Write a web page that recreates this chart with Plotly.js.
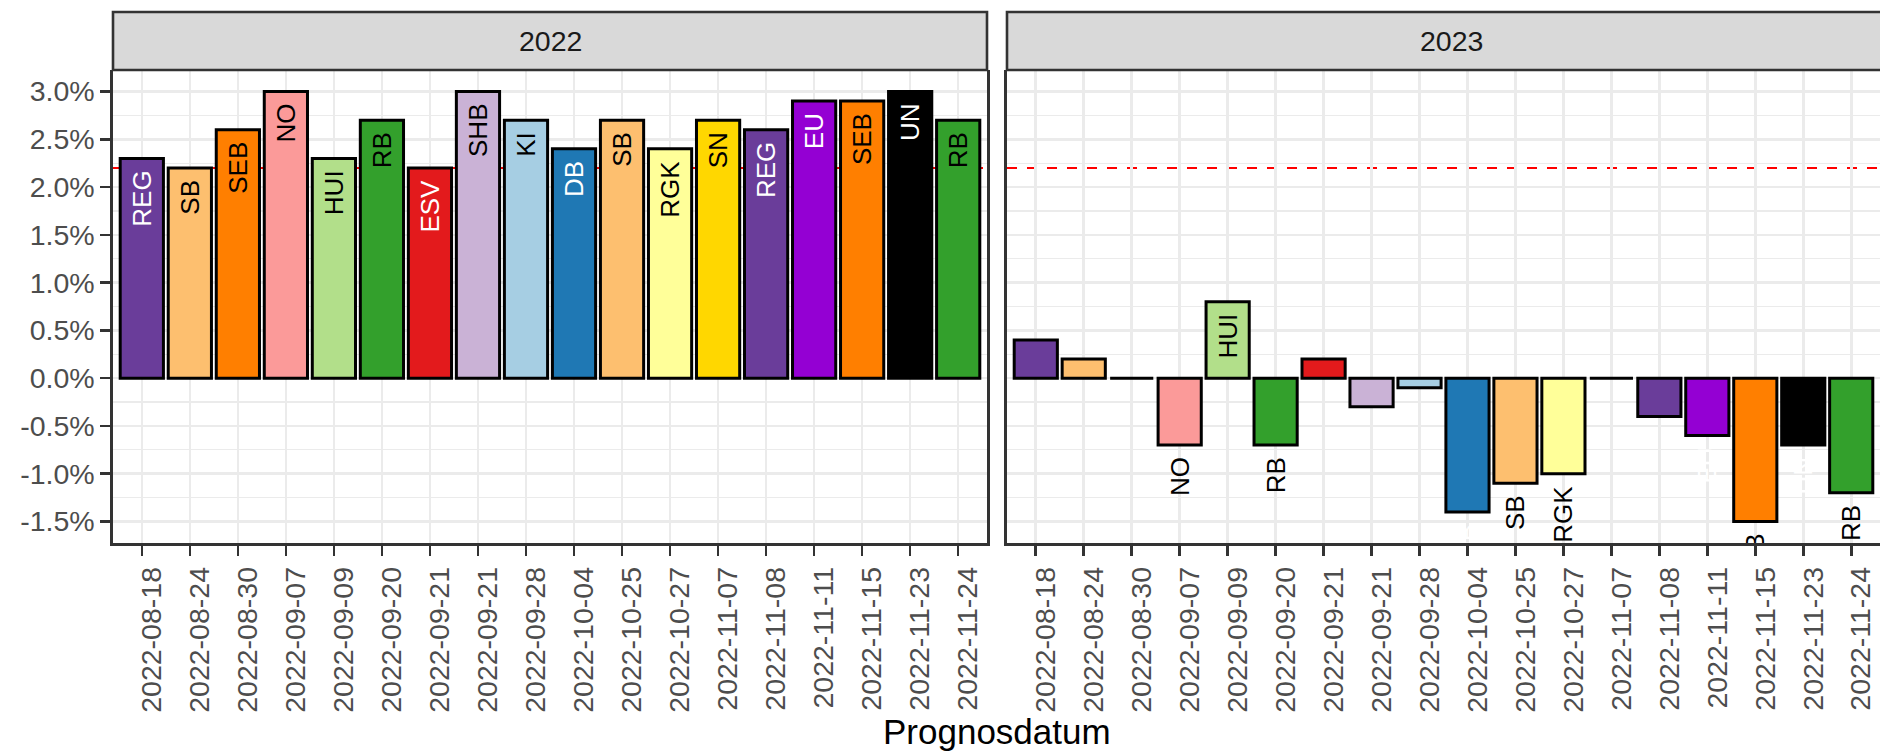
<!DOCTYPE html>
<html>
<head>
<meta charset="utf-8">
<script src="https://cdn.plot.ly/plotly-3.0.1.min.js"></script>
<style>html,body{margin:0;padding:0;background:#fff;}#chart{width:1880px;height:753px;}</style>
</head>
<body>
<div id="chart"></div>
<script>
// ---------- data ----------
const dateLabels = ['2022-08-18','2022-08-24','2022-08-30','2022-09-07','2022-09-09','2022-09-20','2022-09-21','2022-09-21','2022-09-28','2022-10-04','2022-10-25','2022-10-27','2022-11-07','2022-11-08','2022-11-11','2022-11-15','2022-11-23','2022-11-24'];
const institutes = ['REG','SB','SEB','NO','HUI','RB','ESV','SHB','KI','DB','SB','RGK','SN','REG','EU','SEB','UN','RB'];
const forecast2022 = [2.3,2.2,2.6,3.0,2.3,2.7,2.2,3.0,2.7,2.4,2.7,2.4,2.7,2.6,2.9,2.9,3.0,2.7];
const forecast2023 = [0.4,0.2,0.0,-0.7,0.8,-0.7,0.2,-0.3,-0.1,-1.4,-1.1,-1.0,0.0,-0.4,-0.6,-1.5,-0.7,-1.2];
const panelYears = ['2022','2023'];
const referenceLine = 2.2;
const yTickVals = [-1.5,-1.0,-0.5,0.0,0.5,1.0,1.5,2.0,2.5,3.0];
const yTickText = ['-1.5%','-1.0%','-0.5%','0.0%','0.5%','1.0%','1.5%','2.0%','2.5%','3.0%'];
const labelThreshold = 0.5;

// ---------- styles ----------
const instColor = {REG:'#6A3D9A',SB:'#FDBF6F',SEB:'#FF7F00',NO:'#FB9A99',HUI:'#B2DF8A',RB:'#33A02C',ESV:'#E31A1C',SHB:'#CAB2D6',KI:'#A6CEE3',DB:'#1F78B4',RGK:'#FFFF99',SN:'#FFD700',EU:'#9400D3',UN:'#000000'};
const darkInst = new Set(['REG','ESV','DB','EU','UN']);
const FONT = 'Liberation Sans, Arial, Helvetica, sans-serif';
const W = 1880, H = 753;
const panelTopPx = 70, panelBottomPx = 543, stripTopPx = 12;
const panels = [{l:113, r:987}, {l:1007, r:1880}];
const yRange = [-1.725, 3.225];
const pxPerUnit = (panelBottomPx - panelTopPx) / (yRange[1] - yRange[0]);
const labelGapData = 9 / pxPerUnit;

const xpos = dateLabels.map((d, i) => i);
const series = [forecast2022, forecast2023];

const traces = [];
series.forEach((vals, p) => {
  const xa = p === 0 ? 'x' : 'x2';
  const ya = p === 0 ? 'y' : 'y2';
  traces.push({
    type: 'bar', x: xpos, y: vals, xaxis: xa, yaxis: ya, width: 0.9,
    marker: {color: institutes.map(k => instColor[k]), line: {color: '#000000', width: 3}},
    hoverinfo: 'skip', cliponaxis: true
  });
  traces.push({
    type: 'bar', x: xpos, base: vals, y: vals.map(() => -labelGapData), xaxis: xa, yaxis: ya, width: 0.9,
    marker: {color: 'rgba(0,0,0,0)', line: {width: 0}},
    text: institutes.map((k, i) => (p === 0 || Math.abs(vals[i]) >= labelThreshold) ? k : ''),
    textposition: 'outside', textangle: -90, constraintext: 'none', cliponaxis: true,
    textfont: {family: FONT, size: 26, color: institutes.map(k => darkInst.has(k) ? '#FFFFFF' : '#000000')},
    hoverinfo: 'skip'
  });
});

const xCommon = {
  range: [-0.6, 17.6], tickmode: 'array', tickvals: xpos, ticktext: dateLabels, tickangle: -90,
  ticks: 'outside', ticklen: 10, tickwidth: 2.6, tickcolor: '#333333', ticklabelshift: 10,
  showline: true, linecolor: '#333333', linewidth: 2.6,
  showgrid: true, gridcolor: '#EBEBEB', gridwidth: 2.6, zeroline: false,
  tickfont: {family: FONT, size: 28.5, color: '#4D4D4D'}, fixedrange: true
};
const yCommon = {
  range: yRange, tickmode: 'array', tickvals: yTickVals, ticktext: yTickText,
  showgrid: true, gridcolor: '#EBEBEB', gridwidth: 2.6, zeroline: false,
  minor: {tickmode: 'linear', tick0: 0, dtick: 0.25, showgrid: true, gridcolor: '#EBEBEB', gridwidth: 1.3, ticks: ''},
  showline: true, linecolor: '#333333', linewidth: 2.6,
  domain: [1 - panelBottomPx / H, 1 - panelTopPx / H], fixedrange: true
};

const shapes = [];
const annotations = [];
panels.forEach((pn, p) => {
  shapes.push({type: 'line', xref: p === 0 ? 'x domain' : 'x2 domain', yref: p === 0 ? 'y' : 'y2',
    x0: 0, x1: 1, y0: referenceLine, y1: referenceLine,
    line: {color: '#FF0000', width: 2, dash: '10px,10px'}, layer: 'below'});
  shapes.push({type: 'rect', xref: 'paper', yref: 'paper',
    x0: pn.l / W, x1: p === 1 ? 1.01 : pn.r / W, y0: 1 - panelTopPx / H, y1: 1 - stripTopPx / H,
    fillcolor: '#D9D9D9', line: {color: '#333333', width: 2.6}, layer: 'above'});
  annotations.push({xref: 'paper', yref: 'paper', x: (pn.l + (p === 1 ? 1895 : pn.r)) / 2 / W, y: 1 - (panelTopPx + stripTopPx) / 2 / H,
    text: panelYears[p], showarrow: false, xanchor: 'center', yanchor: 'middle',
    font: {family: FONT, size: 28.5, color: '#1A1A1A'}});
});
annotations.push({xref: 'paper', yref: 'paper', x: (113 + 1880) / 2 / W, y: 0, yanchor: 'bottom', xanchor: 'center',
  text: 'Prognosdatum', showarrow: false, font: {family: FONT, size: 35, color: '#000000'}});

const layout = {
  width: W, height: H, margin: {l: 0, r: 0, t: 0, b: 0},
  paper_bgcolor: '#FFFFFF', plot_bgcolor: '#FFFFFF', showlegend: false, barmode: 'overlay',
  xaxis: Object.assign({}, xCommon, {domain: [panels[0].l / W, panels[0].r / W], anchor: 'y'}),
  xaxis2: Object.assign({}, xCommon, {domain: [panels[1].l / W, 1], anchor: 'y2'}),
  yaxis: Object.assign({}, yCommon, {anchor: 'x', mirror: true, ticks: 'outside', ticklen: 10, tickwidth: 2.6, tickcolor: '#333333',
    tickfont: {family: FONT, size: 28.5, color: '#4D4D4D'}}),
  yaxis2: Object.assign({}, yCommon, {anchor: 'x2', showticklabels: false, ticks: ''}),
  shapes: shapes, annotations: annotations, font: {family: FONT}
};

Plotly.newPlot('chart', traces, layout, {staticPlot: true, displayModeBar: false});
</script>
</body>
</html>
